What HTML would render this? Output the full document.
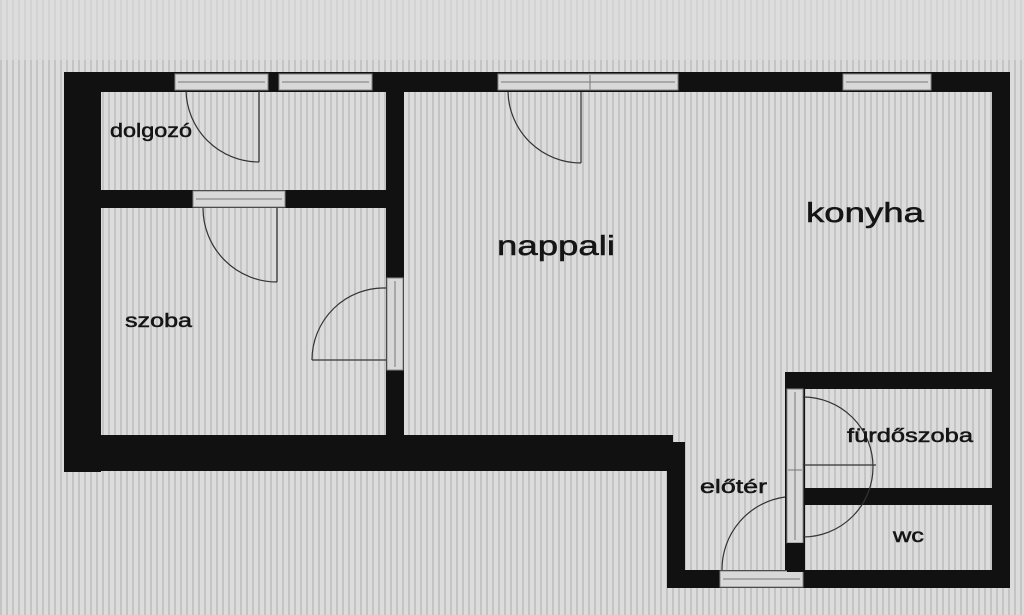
<!DOCTYPE html>
<html><head><meta charset="utf-8">
<style>
html,body{margin:0;padding:0;width:1024px;height:615px;overflow:hidden;background:#d9d9d9;}
svg{display:block}
text{font-family:"Liberation Sans",sans-serif;fill:#151515;stroke:#151515;stroke-width:0.5;}
</style></head><body>
<svg width="1024" height="615" viewBox="0 0 1024 615" xmlns="http://www.w3.org/2000/svg">
<defs>
<pattern id="st" width="6" height="6" patternUnits="userSpaceOnUse">
<rect width="6" height="6" fill="#dcdcdc"/>
<rect width="2" height="6" fill="#c4c4c4"/>
</pattern>
</defs>
<rect width="1024" height="615" fill="url(#st)"/>
<rect x="0" y="0" width="1024" height="60" fill="#dedede" opacity="0.6"/>
<g fill="#111">
<rect x="64" y="72" width="37" height="400"/>
<rect x="64" y="72" width="946" height="20"/>
<rect x="992" y="72" width="18" height="516"/>
<rect x="64" y="435" width="609" height="36"/>
<rect x="673" y="442" width="12" height="30"/>
<rect x="667" y="466" width="18" height="122"/>
<rect x="667" y="570" width="343" height="18"/>
<rect x="101" y="190" width="291" height="18"/>
<rect x="386" y="92" width="18" height="345"/>
<rect x="785" y="372" width="225" height="17"/>
<rect x="785" y="372" width="20" height="200"/>
<rect x="803" y="488" width="190" height="17"/>
</g>
<g fill="#d8d8d8" stroke="#888" stroke-width="1">
<rect x="175" y="74" width="93" height="16"/>
<rect x="279" y="74" width="93" height="16"/>
<rect x="498" y="74" width="180" height="16"/>
<rect x="843" y="74" width="88" height="16"/>
<rect x="193" y="191" width="92" height="16"/>
<rect x="387" y="278" width="16" height="92"/>
<rect x="787" y="389" width="16" height="154"/>
<rect x="720" y="571" width="83" height="16"/>
</g>
<g stroke="#777" stroke-width="1">
<line x1="178" y1="82" x2="265" y2="82"/><line x1="282" y1="82" x2="369" y2="82"/>
<line x1="501" y1="82" x2="675" y2="82"/><line x1="590" y1="75" x2="590" y2="90"/>
<line x1="846" y1="82" x2="928" y2="82"/>
<line x1="196" y1="199" x2="282" y2="199"/>
<line x1="395" y1="281" x2="395" y2="367"/>
<line x1="795" y1="392" x2="795" y2="540"/><line x1="788" y1="470" x2="802" y2="470"/>
<line x1="723" y1="579" x2="800" y2="579"/>
</g>
<rect x="787" y="543" width="18" height="29" fill="#111"/>
<g fill="none" stroke="#333" stroke-width="1.2">
<path d="M259 90 V162 M186 90 A73 73 0 0 0 259 162"/>
<path d="M277 208 V282 M203 208 A74 74 0 0 0 277 282"/>
<path d="M386 360 H312 M386 288 A72 72 0 0 0 312 360"/>
<path d="M581 92 V163 M508 92 A73 73 0 0 0 581 163"/>
<path d="M803 465 H876 M803 397 A70 70 0 0 1 803 537"/>
<path d="M785 497 A73 73 0 0 0 722 570"/>
</g>
<text x="110" y="137" font-size="19" textLength="82" lengthAdjust="spacingAndGlyphs">dolgozó</text>
<text x="125" y="327" font-size="19" textLength="67" lengthAdjust="spacingAndGlyphs">szoba</text>
<text x="497" y="255" font-size="28" textLength="118" lengthAdjust="spacingAndGlyphs">nappali</text>
<text x="806" y="222" font-size="28" textLength="118" lengthAdjust="spacingAndGlyphs">konyha</text>
<text x="847" y="442" font-size="19" textLength="126" lengthAdjust="spacingAndGlyphs">fürdőszoba</text>
<text x="700" y="493" font-size="19" textLength="67" lengthAdjust="spacingAndGlyphs">előtér</text>
<text x="893" y="542" font-size="19" textLength="31" lengthAdjust="spacingAndGlyphs">wc</text>
</svg>
</body></html>
